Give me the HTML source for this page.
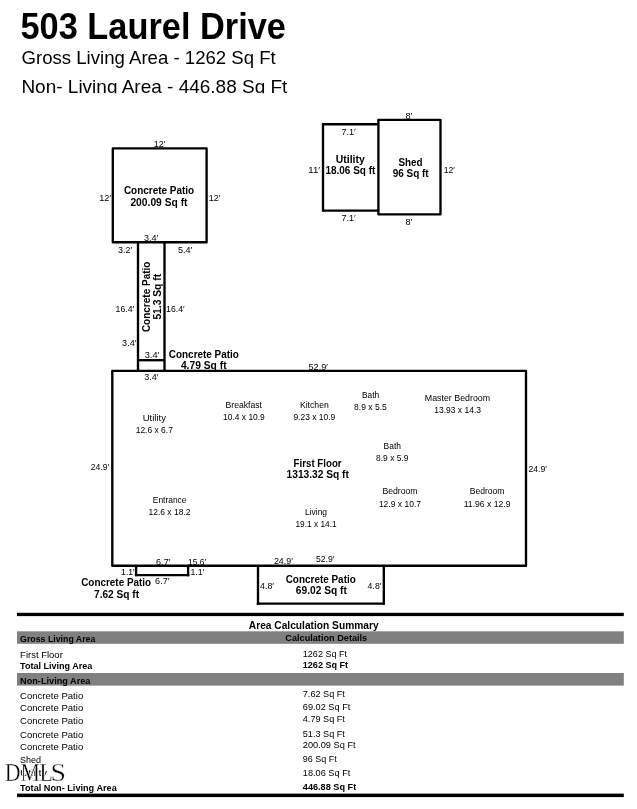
<!DOCTYPE html>
<html lang="en">
<head>
<meta charset="utf-8">
<title>503 Laurel Drive</title>
<style>
html,body{margin:0;padding:0;background:#fff;}
body{width:637px;height:809px;overflow:hidden;}
svg{display:block;will-change:transform;}
text{font-family:"Liberation Sans",sans-serif;white-space:pre;}
text.b{font-weight:bold;}
text.r{font-weight:normal;}
text.wmh{font-family:"Liberation Serif",serif;fill:#fff;stroke:#fff;stroke-width:1.2px;stroke-linejoin:round;}
text.wm{font-family:"Liberation Serif",serif;fill:#000;stroke:#fff;stroke-width:0.35px;paint-order:fill stroke;}
</style>
</head>
<body>
<svg width="637" height="809" viewBox="0 0 637 809">
<defs><clipPath id="hc"><rect x="0" y="0" width="637" height="93.2"/></clipPath></defs>
<rect x="0" y="0" width="637" height="809" fill="#fff"/>
<rect x="112.80" y="148.30" width="93.80" height="93.90" fill="none" stroke="#000" stroke-width="2.35" stroke-linejoin="round"/>
<line x1="138.00" y1="242.20" x2="138.00" y2="370.80" stroke="#000" stroke-width="2.35" stroke-linecap="butt"/>
<line x1="164.50" y1="242.20" x2="164.50" y2="370.80" stroke="#000" stroke-width="2.35" stroke-linecap="butt"/>
<line x1="138.00" y1="360.20" x2="164.50" y2="360.20" stroke="#000" stroke-width="2.35" stroke-linecap="butt"/>
<rect x="112.30" y="370.90" width="413.70" height="194.80" fill="none" stroke="#000" stroke-width="2.35" stroke-linejoin="round"/>
<line x1="136.10" y1="565.70" x2="136.10" y2="576.27" stroke="#000" stroke-width="2.35" stroke-linecap="butt"/>
<line x1="188.10" y1="565.70" x2="188.10" y2="576.27" stroke="#000" stroke-width="2.35" stroke-linecap="butt"/>
<line x1="134.92" y1="575.10" x2="189.28" y2="575.10" stroke="#000" stroke-width="2.35" stroke-linecap="butt"/>
<line x1="258.00" y1="565.70" x2="258.00" y2="604.77" stroke="#000" stroke-width="2.35" stroke-linecap="butt"/>
<line x1="383.80" y1="565.70" x2="383.80" y2="604.77" stroke="#000" stroke-width="2.35" stroke-linecap="butt"/>
<line x1="256.82" y1="603.60" x2="384.98" y2="603.60" stroke="#000" stroke-width="2.35" stroke-linecap="butt"/>
<line x1="378.40" y1="124.20" x2="323.00" y2="124.20" stroke="#000" stroke-width="2.35" stroke-linecap="butt"/>
<line x1="323.00" y1="123.03" x2="323.00" y2="211.78" stroke="#000" stroke-width="2.35" stroke-linecap="butt"/>
<line x1="323.00" y1="210.60" x2="378.40" y2="210.60" stroke="#000" stroke-width="2.35" stroke-linecap="butt"/>
<rect x="378.40" y="119.80" width="62.10" height="94.50" fill="none" stroke="#000" stroke-width="2.35" stroke-linejoin="round"/>
<rect x="17" y="612.8" width="606.8" height="3.3" fill="#000"/>
<rect x="17" y="793.6" width="606.8" height="3.5" fill="#000"/>
<rect x="17" y="631.3" width="606.8" height="12.5" fill="#808080"/>
<rect x="17" y="673.0" width="606.8" height="12.6" fill="#808080"/>
<text class="b" x="20.40" y="38.80" font-size="37.4" textLength="265.60" lengthAdjust="spacingAndGlyphs" fill="#000">503 Laurel Drive</text>
<g clip-path="url(#hc)">
<text class="r" x="21.50" y="63.80" font-size="18.5" textLength="254.30" lengthAdjust="spacingAndGlyphs" fill="#000">Gross Living Area - 1262 Sq Ft</text>
<text class="r" x="21.40" y="93.40" font-size="18.5" textLength="266.00" lengthAdjust="spacingAndGlyphs" fill="#000">Non- Living Area - 446.88 Sq Ft</text>
</g>
<text class="r" x="153.80" y="146.90" font-size="9.1" textLength="11.60" lengthAdjust="spacingAndGlyphs" fill="#000">12′</text>
<text class="r" x="99.30" y="201.10" font-size="9.1" textLength="11.80" lengthAdjust="spacingAndGlyphs" fill="#000">12′</text>
<text class="r" x="208.80" y="201.10" font-size="9.1" textLength="11.60" lengthAdjust="spacingAndGlyphs" fill="#000">12′</text>
<text class="b" x="123.90" y="194.40" font-size="11.3" textLength="70.30" lengthAdjust="spacingAndGlyphs" fill="#000">Concrete Patio</text>
<text class="b" x="130.40" y="205.70" font-size="11.3" textLength="57.10" lengthAdjust="spacingAndGlyphs" fill="#000">200.09 Sq ft</text>
<text class="r" x="144.00" y="240.50" font-size="9.1" textLength="14.30" lengthAdjust="spacingAndGlyphs" fill="#000">3.4′</text>
<text class="r" x="118.10" y="252.60" font-size="9.1" textLength="14.10" lengthAdjust="spacingAndGlyphs" fill="#000">3.2′</text>
<text class="r" x="177.90" y="252.60" font-size="9.1" textLength="14.30" lengthAdjust="spacingAndGlyphs" fill="#000">5.4′</text>
<g transform="translate(149.3,332.1) rotate(-90)">
<text class="b" x="0.00" y="0.30" font-size="11.3" textLength="70.50" lengthAdjust="spacingAndGlyphs" fill="#000">Concrete Patio</text>
</g>
<g transform="translate(160.6,319.6) rotate(-90)">
<text class="b" x="0.00" y="0.30" font-size="11.3" textLength="45.70" lengthAdjust="spacingAndGlyphs" fill="#000">51.3 Sq ft</text>
</g>
<text class="r" x="115.60" y="312.10" font-size="9.1" textLength="18.60" lengthAdjust="spacingAndGlyphs" fill="#000">16.4′</text>
<text class="r" x="166.10" y="312.10" font-size="9.1" textLength="18.60" lengthAdjust="spacingAndGlyphs" fill="#000">16.4′</text>
<text class="r" x="122.10" y="345.70" font-size="9.1" textLength="14.30" lengthAdjust="spacingAndGlyphs" fill="#000">3.4′</text>
<text class="r" x="144.70" y="357.80" font-size="9.1" textLength="14.60" lengthAdjust="spacingAndGlyphs" fill="#000">3.4′</text>
<text class="r" x="144.20" y="379.90" font-size="9.1" textLength="14.30" lengthAdjust="spacingAndGlyphs" fill="#000">3.4′</text>
<text class="b" x="168.80" y="358.10" font-size="11.3" textLength="70.10" lengthAdjust="spacingAndGlyphs" fill="#000">Concrete Patio</text>
<text class="b" x="180.90" y="369.40" font-size="11.3" textLength="45.70" lengthAdjust="spacingAndGlyphs" fill="#000">4.79 Sq ft</text>
<text class="r" x="308.60" y="369.60" font-size="9.1" textLength="19.30" lengthAdjust="spacingAndGlyphs" fill="#000">52.9′</text>
<text class="r" x="142.70" y="420.70" font-size="9.0" textLength="23.20" lengthAdjust="spacingAndGlyphs" fill="#000">Utility</text>
<text class="r" x="135.70" y="432.80" font-size="9.0" textLength="37.20" lengthAdjust="spacingAndGlyphs" fill="#000">12.6 x 6.7</text>
<text class="r" x="90.80" y="469.50" font-size="9.1" textLength="18.50" lengthAdjust="spacingAndGlyphs" fill="#000">24.9′</text>
<text class="r" x="152.80" y="503.10" font-size="9.0" textLength="33.70" lengthAdjust="spacingAndGlyphs" fill="#000">Entrance</text>
<text class="r" x="148.50" y="515.20" font-size="9.0" textLength="42.00" lengthAdjust="spacingAndGlyphs" fill="#000">12.6 x 18.2</text>
<text class="r" x="225.60" y="407.90" font-size="9.0" textLength="36.40" lengthAdjust="spacingAndGlyphs" fill="#000">Breakfast</text>
<text class="r" x="223.10" y="420.00" font-size="9.0" textLength="41.70" lengthAdjust="spacingAndGlyphs" fill="#000">10.4 x 10.9</text>
<text class="r" x="299.90" y="407.90" font-size="9.0" textLength="28.90" lengthAdjust="spacingAndGlyphs" fill="#000">Kitchen</text>
<text class="r" x="293.40" y="420.00" font-size="9.0" textLength="41.90" lengthAdjust="spacingAndGlyphs" fill="#000">9.23 x 10.9</text>
<text class="b" x="293.60" y="466.50" font-size="11.3" textLength="48.00" lengthAdjust="spacingAndGlyphs" fill="#000">First Floor</text>
<text class="b" x="286.60" y="478.00" font-size="11.3" textLength="62.30" lengthAdjust="spacingAndGlyphs" fill="#000">1313.32 Sq ft</text>
<text class="r" x="305.00" y="514.70" font-size="9.0" textLength="22.00" lengthAdjust="spacingAndGlyphs" fill="#000">Living</text>
<text class="r" x="295.40" y="526.70" font-size="9.0" textLength="41.20" lengthAdjust="spacingAndGlyphs" fill="#000">19.1 x 14.1</text>
<text class="r" x="362.00" y="397.60" font-size="9.0" textLength="17.20" lengthAdjust="spacingAndGlyphs" fill="#000">Bath</text>
<text class="r" x="354.10" y="409.50" font-size="9.0" textLength="32.70" lengthAdjust="spacingAndGlyphs" fill="#000">8.9 x 5.5</text>
<text class="r" x="424.80" y="400.70" font-size="9.0" textLength="65.30" lengthAdjust="spacingAndGlyphs" fill="#000">Master Bedroom</text>
<text class="r" x="434.20" y="413.00" font-size="9.0" textLength="46.80" lengthAdjust="spacingAndGlyphs" fill="#000">13.93 x 14.3</text>
<text class="r" x="383.60" y="448.70" font-size="9.0" textLength="17.30" lengthAdjust="spacingAndGlyphs" fill="#000">Bath</text>
<text class="r" x="376.10" y="460.70" font-size="9.0" textLength="32.30" lengthAdjust="spacingAndGlyphs" fill="#000">8.9 x 5.9</text>
<text class="r" x="382.40" y="494.00" font-size="9.0" textLength="35.20" lengthAdjust="spacingAndGlyphs" fill="#000">Bedroom</text>
<text class="r" x="378.90" y="506.50" font-size="9.0" textLength="42.10" lengthAdjust="spacingAndGlyphs" fill="#000">12.9 x 10.7</text>
<text class="r" x="469.70" y="494.00" font-size="9.0" textLength="34.80" lengthAdjust="spacingAndGlyphs" fill="#000">Bedroom</text>
<text class="r" x="463.70" y="506.50" font-size="9.0" textLength="46.80" lengthAdjust="spacingAndGlyphs" fill="#000">11.96 x 12.9</text>
<text class="r" x="528.40" y="472.30" font-size="9.1" textLength="18.50" lengthAdjust="spacingAndGlyphs" fill="#000">24.9′</text>
<text class="r" x="156.10" y="564.70" font-size="9.1" textLength="14.30" lengthAdjust="spacingAndGlyphs" fill="#000">6.7′</text>
<text class="r" x="188.00" y="564.70" font-size="9.1" textLength="18.00" lengthAdjust="spacingAndGlyphs" fill="#000">15.6′</text>
<text class="r" x="121.10" y="575.20" font-size="9.1" textLength="13.60" lengthAdjust="spacingAndGlyphs" fill="#000">1.1′</text>
<text class="r" x="190.50" y="575.20" font-size="9.1" textLength="13.80" lengthAdjust="spacingAndGlyphs" fill="#000">1.1′</text>
<text class="r" x="155.10" y="584.30" font-size="9.1" textLength="14.30" lengthAdjust="spacingAndGlyphs" fill="#000">6.7′</text>
<text class="b" x="81.20" y="585.80" font-size="11.3" textLength="70.00" lengthAdjust="spacingAndGlyphs" fill="#000">Concrete Patio</text>
<text class="b" x="94.00" y="597.60" font-size="11.3" textLength="45.10" lengthAdjust="spacingAndGlyphs" fill="#000">7.62 Sq ft</text>
<text class="r" x="273.90" y="563.60" font-size="9.1" textLength="18.90" lengthAdjust="spacingAndGlyphs" fill="#000">24.9′</text>
<text class="r" x="315.90" y="562.00" font-size="9.1" textLength="18.50" lengthAdjust="spacingAndGlyphs" fill="#000">52.9′</text>
<text class="r" x="260.10" y="588.90" font-size="9.1" textLength="13.80" lengthAdjust="spacingAndGlyphs" fill="#000">4.8′</text>
<text class="r" x="367.60" y="588.90" font-size="9.1" textLength="13.80" lengthAdjust="spacingAndGlyphs" fill="#000">4.8′</text>
<text class="b" x="285.70" y="582.90" font-size="11.3" textLength="70.10" lengthAdjust="spacingAndGlyphs" fill="#000">Concrete Patio</text>
<text class="b" x="295.80" y="594.20" font-size="11.3" textLength="51.00" lengthAdjust="spacingAndGlyphs" fill="#000">69.02 Sq ft</text>
<text class="r" x="341.40" y="134.70" font-size="9.1" textLength="14.40" lengthAdjust="spacingAndGlyphs" fill="#000">7.1′</text>
<text class="r" x="341.40" y="220.60" font-size="9.1" textLength="14.40" lengthAdjust="spacingAndGlyphs" fill="#000">7.1′</text>
<text class="r" x="405.50" y="119.40" font-size="9.1" textLength="6.80" lengthAdjust="spacingAndGlyphs" fill="#000">8′</text>
<text class="r" x="405.50" y="224.90" font-size="9.1" textLength="6.80" lengthAdjust="spacingAndGlyphs" fill="#000">8′</text>
<text class="r" x="308.30" y="172.60" font-size="9.1" textLength="11.80" lengthAdjust="spacingAndGlyphs" fill="#000">11′</text>
<text class="r" x="443.70" y="172.60" font-size="9.1" textLength="11.30" lengthAdjust="spacingAndGlyphs" fill="#000">12′</text>
<text class="b" x="335.70" y="163.10" font-size="11.3" textLength="29.10" lengthAdjust="spacingAndGlyphs" fill="#000">Utility</text>
<text class="b" x="325.40" y="174.40" font-size="11.3" textLength="50.00" lengthAdjust="spacingAndGlyphs" fill="#000">18.06 Sq ft</text>
<text class="b" x="398.50" y="166.10" font-size="11.3" textLength="24.10" lengthAdjust="spacingAndGlyphs" fill="#000">Shed</text>
<text class="b" x="392.70" y="177.40" font-size="11.3" textLength="35.90" lengthAdjust="spacingAndGlyphs" fill="#000">96 Sq ft</text>
<text class="b" x="248.80" y="628.60" font-size="11.3" textLength="129.80" lengthAdjust="spacingAndGlyphs" fill="#000">Area Calculation Summary</text>
<text class="b" x="20.10" y="641.70" font-size="9.8" textLength="75.30" lengthAdjust="spacingAndGlyphs" fill="#000">Gross Living Area</text>
<text class="b" x="285.30" y="641.10" font-size="9.8" textLength="81.90" lengthAdjust="spacingAndGlyphs" fill="#000">Calculation Details</text>
<text class="r" x="20.10" y="658.00" font-size="9.8" textLength="42.70" lengthAdjust="spacingAndGlyphs" fill="#000">First Floor</text>
<text class="r" x="302.80" y="657.10" font-size="9.8" textLength="44.30" lengthAdjust="spacingAndGlyphs" fill="#000">1262 Sq Ft</text>
<text class="b" x="20.10" y="669.00" font-size="9.8" textLength="72.20" lengthAdjust="spacingAndGlyphs" fill="#000">Total Living Area</text>
<text class="b" x="302.80" y="668.40" font-size="9.8" textLength="45.30" lengthAdjust="spacingAndGlyphs" fill="#000">1262 Sq Ft</text>
<text class="b" x="20.10" y="683.50" font-size="9.8" textLength="70.30" lengthAdjust="spacingAndGlyphs" fill="#000">Non-Living Area</text>
<text class="r" x="20.10" y="698.80" font-size="9.8" textLength="63.10" lengthAdjust="spacingAndGlyphs" fill="#000">Concrete Patio</text>
<text class="r" x="20.10" y="711.40" font-size="9.8" textLength="63.10" lengthAdjust="spacingAndGlyphs" fill="#000">Concrete Patio</text>
<text class="r" x="20.10" y="724.20" font-size="9.8" textLength="63.10" lengthAdjust="spacingAndGlyphs" fill="#000">Concrete Patio</text>
<text class="r" x="20.10" y="738.00" font-size="9.8" textLength="63.10" lengthAdjust="spacingAndGlyphs" fill="#000">Concrete Patio</text>
<text class="r" x="20.10" y="750.30" font-size="9.8" textLength="63.10" lengthAdjust="spacingAndGlyphs" fill="#000">Concrete Patio</text>
<text class="r" x="20.10" y="763.20" font-size="9.8" textLength="21.00" lengthAdjust="spacingAndGlyphs" fill="#000">Shed</text>
<text class="r" x="20.10" y="776.30" font-size="9.8" textLength="26.90" lengthAdjust="spacingAndGlyphs" fill="#000">Utility</text>
<text class="b" x="20.10" y="790.80" font-size="9.8" textLength="96.70" lengthAdjust="spacingAndGlyphs" fill="#000">Total Non- Living Area</text>
<text class="r" x="302.80" y="696.60" font-size="9.8" textLength="42.10" lengthAdjust="spacingAndGlyphs" fill="#000">7.62 Sq Ft</text>
<text class="r" x="302.80" y="709.80" font-size="9.8" textLength="47.50" lengthAdjust="spacingAndGlyphs" fill="#000">69.02 Sq Ft</text>
<text class="r" x="302.80" y="722.30" font-size="9.8" textLength="42.10" lengthAdjust="spacingAndGlyphs" fill="#000">4.79 Sq Ft</text>
<text class="r" x="302.80" y="736.50" font-size="9.8" textLength="42.10" lengthAdjust="spacingAndGlyphs" fill="#000">51.3 Sq Ft</text>
<text class="r" x="302.80" y="748.40" font-size="9.8" textLength="52.80" lengthAdjust="spacingAndGlyphs" fill="#000">200.09 Sq Ft</text>
<text class="r" x="302.80" y="761.90" font-size="9.8" textLength="34.00" lengthAdjust="spacingAndGlyphs" fill="#000">96 Sq Ft</text>
<text class="r" x="302.80" y="775.70" font-size="9.8" textLength="47.50" lengthAdjust="spacingAndGlyphs" fill="#000">18.06 Sq Ft</text>
<text class="b" x="302.80" y="789.90" font-size="9.8" textLength="53.40" lengthAdjust="spacingAndGlyphs" fill="#000">446.88 Sq Ft</text>
<g transform="scale(0.88,1)">
<text class="wmh" x="5.34 23.18 45.00" y="780.9" font-size="24.8">DML</text>
<text class="wm" x="5.34 23.18 45.00" y="780.9" font-size="24.8">DML</text>
</g>
<g transform="scale(1.12,1)">
<text class="wmh" x="45.18" y="780.9" font-size="24.8">S</text>
<text class="wm" x="45.18" y="780.9" font-size="24.8">S</text>
</g>
</svg>
</body>
</html>
